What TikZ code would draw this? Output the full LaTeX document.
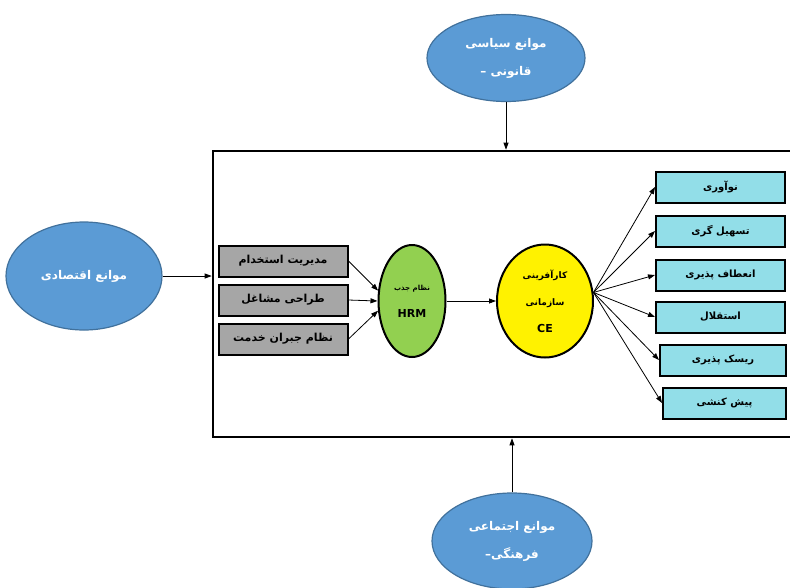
\documentclass[tikz,border=0pt]{standalone}
\usepackage{fontspec}
\newfontfamily\fafont[Script=Arabic]{DejaVu Sans}
\TeXXeTstate=1
\usetikzlibrary{shapes.geometric,arrows.meta}
\definecolor{barblue}{RGB}{91,155,213}
\definecolor{barline}{RGB}{65,113,156}
\definecolor{hrmgreen}{RGB}{146,208,80}
\definecolor{boxgray}{RGB}{166,166,166}
\definecolor{boxcyan}{RGB}{146,222,232}
\newcommand{\rl}[1]{\beginR #1\endR}

\begin{document}
\begin{tikzpicture}[x=1pt, y=-1pt,
    every node/.style={font=\fafont\bfseries\fontsize{11}{27}\selectfont},
    barrier/.style={ellipse, fill=barblue, draw=barline, line width=1.2pt, text=white, inner sep=0pt, align=center, font=\fafont\bfseries\fontsize{12}{28}\selectfont},
    hrbox/.style={rectangle, fill=boxgray, draw=black, line width=2pt, minimum width=129, minimum height=31, inner sep=0pt},
    cebox/.style={rectangle, fill=boxcyan, draw=black, line width=2pt, minimum width=129, minimum height=31, inner sep=0pt, font=\fafont\bfseries\fontsize{10}{12}\selectfont},
    arr/.style={-{Triangle[length=7pt,width=5pt]}, line width=0.8pt}]
    \useasboundingbox (0,0) rectangle (790,587);

    % Frame
    \node[draw, line width=2.6pt, minimum width=590, minimum height=286, inner sep=0pt] (frame) at (508,294) {};

    % Barriers
    \node[barrier, minimum width=158, minimum height=87] (polit) at (506,58) {\rl{موانع سیاسی}\\\rl{قانونی –}};
    \node[barrier, minimum width=156, minimum height=108] (econ) at (84,276) {\rl{موانع اقتصادی}};
    \node[barrier, minimum width=160, minimum height=96] (social) at (512,541) {\rl{موانع اجتماعی}\\\rl{فرهنگی–}};

    \draw[arr] (polit.south) -- (polit.south |- frame.north);
    \draw[arr] (econ.east) -- (econ.east -| frame.west);
    \draw[arr] (social.north) -- (social.north |- frame.south);

    % HRM practices
    \node[hrbox] (hire) at (283,261) {\rl{مدیریت استخدام}};
    \node[hrbox] (job) at (283,300) {\rl{طراحی مشاغل}};
    \node[hrbox] (pay) at (283,339) {\rl{نظام جبران خدمت}};

    \node[ellipse, fill=hrmgreen, draw=black, line width=2pt, minimum width=67, minimum height=112, inner sep=0pt, align=center] (hrm) at (412,301)
        {{\fontsize{7}{20}\selectfont\rl{نظام جذب}}\\HRM};

    \draw[arr] (hire.east) -- (hrm.163);
    \draw[arr] (job.east) -- (hrm.west);
    \draw[arr] (pay.east) -- (hrm.196);

    % Corporate entrepreneurship
    \node[ellipse, fill=yellow, draw=black, line width=2pt, minimum width=96, minimum height=113, inner sep=0pt, align=center,
        font=\fafont\bfseries\fontsize{9}{27}\selectfont] (ce) at (545,301)
        {\rl{کارآفرینی}\\\rl{سازمانی}\\{\fontsize{11}{27}\selectfont CE}};
    \draw[arr] (hrm.east) -- (ce.west);

    % Dimensions
    \node[cebox] (innov) at (720.5,187) {\rl{نوآوری}};
    \node[cebox] (facil) at (720.5,231) {\rl{تسهیل گری}};
    \node[cebox] (flex) at (720.5,275) {\rl{انعطاف پذیری}};
    \node[cebox] (auton) at (720.5,317) {\rl{استقلال}};
    \node[cebox, minimum width=126] (risk) at (723,360) {\rl{ریسک پذیری}};
    \node[cebox, minimum width=123] (proact) at (724.5,403) {\rl{پیش کنشی}};

    \foreach \dim in {innov,facil,flex,auton,risk,proact}
        \draw[arr] (ce.10) -- (\dim.west);
\end{tikzpicture}
\end{document}
